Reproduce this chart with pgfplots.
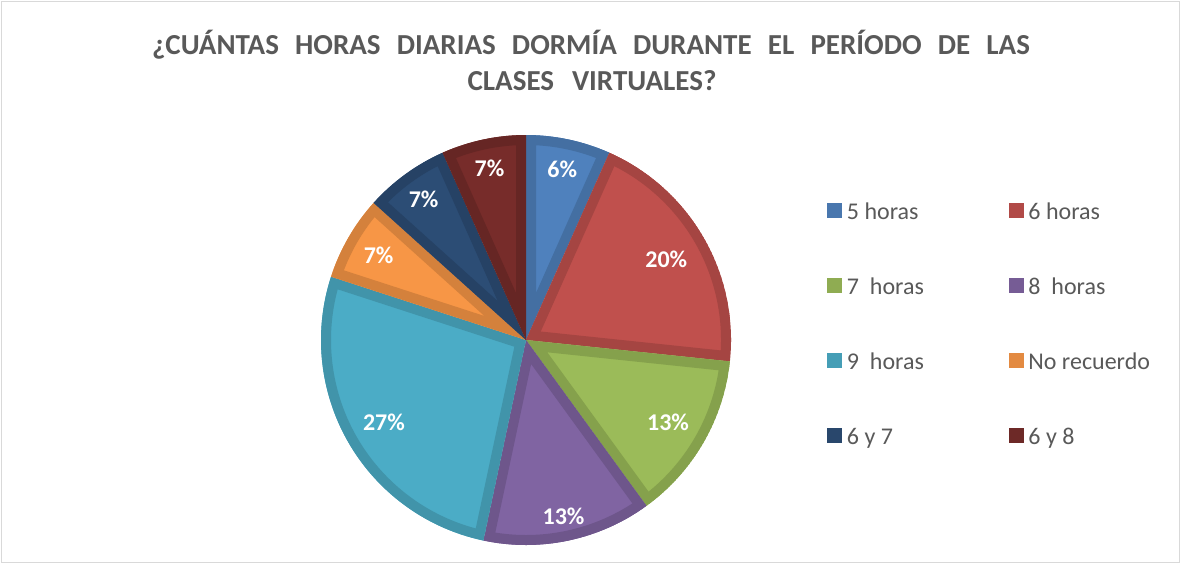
\documentclass[border=0pt]{standalone}
\usepackage{pgfplots}
\pgfplotsset{compat=1.18}
\usepackage{pgfplotstable}
\usepackage{fontspec}
\setmainfont{Carlito}
\definecolor{c1}{HTML}{4F81BD}
\definecolor{c2}{HTML}{C0504D}
\definecolor{c3}{HTML}{9BBB59}
\definecolor{c4}{HTML}{8064A2}
\definecolor{c5}{HTML}{4BACC6}
\definecolor{c6}{HTML}{F79646}
\definecolor{c7}{HTML}{2C4D75}
\definecolor{c8}{HTML}{772C2A}
\definecolor{txt}{HTML}{595959}
\definecolor{frame}{HTML}{D9D9D9}
\newcommand\lblfont{\bfseries\fontsize{12}{14}\selectfont}
\newcommand\legfont{\fontsize{12}{14}\selectfont}
\newcommand\titlefont{\bfseries\fontsize{14.5}{17}\selectfont}

% value = number of answers, pct = label shown, lr = label radius (fraction of pie radius)
\pgfplotstableread[col sep=comma]{
name,value,pct,col,lr
5 horas,1,6,c1,0.85
6 horas,3,20,c2,0.79
7~~horas,2,13,c3,0.80
8~~horas,2,13,c4,0.88
9~~horas,4,27,c5,0.80
No recuerdo,1,7,c6,0.83
6 y 7,1,7,c7,0.85
6 y 8,1,7,c8,0.855
}\piedata

\begin{document}
\begin{tikzpicture}
\pgfplotstablegetrowsof{\piedata}
\pgfmathtruncatemacro\lastrow{\pgfplotsretval-1}
\def\total{0}
\pgfplotsforeachungrouped \i in {0,...,\lastrow}{%
  \pgfplotstablegetelem{\i}{value}\of\piedata
  \pgfmathsetmacro\total{\total+\pgfplotsretval}%
}
\begin{axis}[x=0.5pt,y=0.5pt,xmin=0,xmax=1181,ymin=0,ymax=564,
  hide axis,clip=false,scale only axis]
\path (axis cs:0,0) rectangle (axis cs:1181,564);
\draw[frame,line width=0.75pt] (axis cs:1.5,1.5) rectangle (axis cs:1179.5,562.5);
\node[anchor=base,text=txt,font=\titlefont,inner sep=0pt] at (axis cs:591,510)
  {\makebox[439pt][s]{¿CUÁNTAS HORAS DIARIAS DORMÍA DURANTE EL PERÍODO DE LAS}};
\node[anchor=base,text=txt,font=\titlefont,inner sep=0pt] at (axis cs:592,474)
  {CLASES\hspace{9pt}VIRTUALES?};
\def\cum{90}
\def\R{102.5pt}
\pgfplotsforeachungrouped \i in {0,...,\lastrow}{%
  \pgfplotstablegetelem{\i}{value}\of\piedata \let\sv\pgfplotsretval
  \pgfplotstablegetelem{\i}{pct}\of\piedata \let\spct\pgfplotsretval
  \pgfplotstablegetelem{\i}{col}\of\piedata \let\scol\pgfplotsretval
  \pgfplotstablegetelem{\i}{lr}\of\piedata \let\slr\pgfplotsretval
  \pgfplotstablegetelem{\i}{name}\of\piedata \let\snm\pgfplotsretval
  \pgfmathsetmacro\sb{\cum-360*\sv/\total}%
  \pgfmathsetmacro\sm{(\cum+\sb)/2}%
  \pgfmathsetmacro\lx{526+\slr*205*cos(\sm)}%
  \pgfmathsetmacro\ly{224+\slr*205*sin(\sm)}%
  \pgfmathsetmacro\gx{834.5+181.5*mod(\i,2)}%
  \pgfmathsetmacro\gy{564-210.5-75*floor(\i/2)}%
  \edef\temp{%
    \noexpand\begin{scope}
    \noexpand\clip (axis cs:526,224) -- ++(\cum:\R) arc[start angle=\cum,end angle=\sb,radius=\R] -- cycle;
    \noexpand\fill[\scol] (axis cs:526,224) -- ++(\cum:\R) arc[start angle=\cum,end angle=\sb,radius=\R] -- cycle;
    \noexpand\draw[\scol!86!black,line width=10pt,line join=miter] (axis cs:526,224) -- ++(\cum:\R) arc[start angle=\cum,end angle=\sb,radius=\R] -- cycle;
    \noexpand\end{scope}
    \noexpand\node[text=white,font=\noexpand\lblfont,inner sep=0pt] at (axis cs:\lx,\ly) {\spct\noexpand\%};
    \noexpand\fill[\scol!92!black] (axis cs:\gx-7.5,\gy-7.5) rectangle (axis cs:\gx+7.5,\gy+7.5);
    \noexpand\node[anchor=base west,text=txt,font=\noexpand\legfont,inner sep=0pt] at (axis cs:\gx+12,\gy-8.5) {\unexpanded\expandafter{\snm}};
  }%
  \temp
  \let\cum\sb
}
\end{axis}
\end{tikzpicture}
\end{document}
